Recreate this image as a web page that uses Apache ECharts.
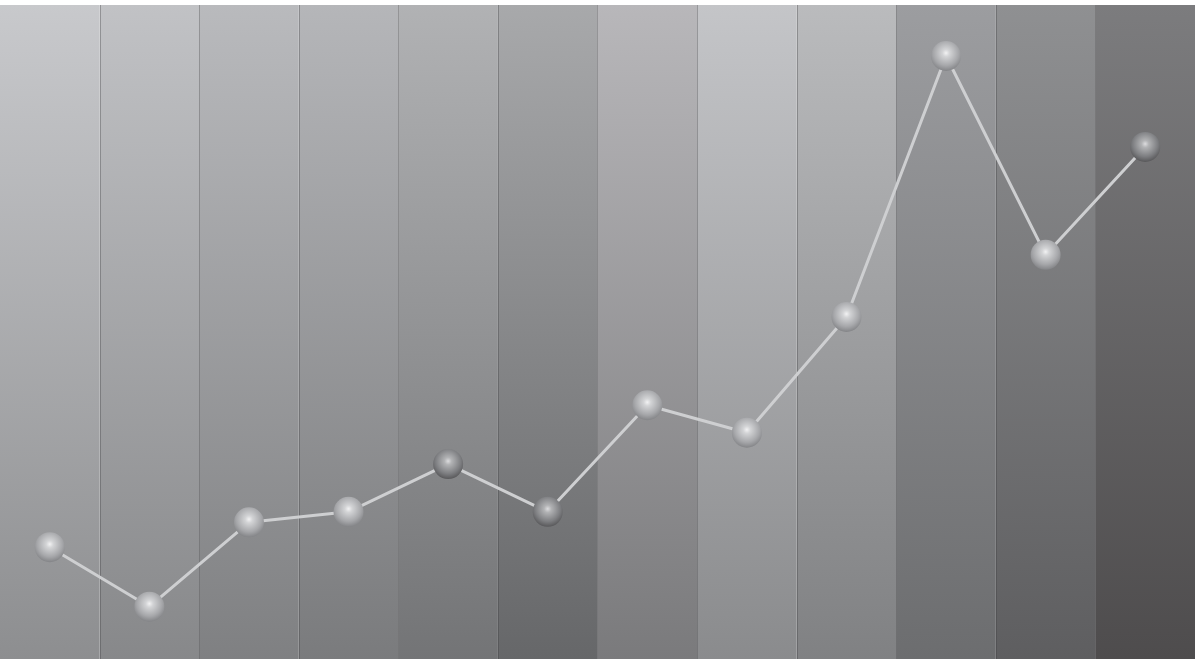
<!DOCTYPE html>
<html>
<head>
<meta charset="utf-8">
<script src="https://cdn.jsdelivr.net/npm/echarts@6/dist/echarts.min.js"></script>
<style>
  html, body { margin: 0; padding: 0; background: #ffffff; }
  #chart { width: 1195px; height: 659px; }
</style>
</head>
<body>
<div id="chart"></div>
<script>
// Monthly categories (axis labels are hidden)
const categories = ['Jan', 'Feb', 'Mar', 'Apr', 'May', 'Jun', 'Jul', 'Aug', 'Sep', 'Oct', 'Nov', 'Dec'];

// Line values
const values = [17.1, 8.0, 20.9, 22.5, 29.8, 22.5, 38.8, 34.6, 52.3, 92.2, 61.8, 78.3];

// Value-axis range
const yMin = 0;
const yMax = 100;

// Column background gradients: [top colour, bottom colour]
const columnTop    = ['#c8c9cc', '#c1c2c5', '#b9babd', '#b5b6b9', '#b1b2b4', '#a8a9ab', '#b8b7ba', '#c4c5c8', '#babbbd', '#9c9da0', '#8f9092', '#7c7c7e'];
const columnBottom = ['#8d8e90', '#87888a', '#7f8082', '#7a7b7d', '#737476', '#666769', '#7a7a7c', '#8a8b8d', '#808183', '#6c6d6f', '#5e5e60', '#4e4c4d'];

// Marker tone per point: 'light' or 'dark'
const markerTone = ['light', 'light', 'light', 'light', 'dark', 'dark', 'light', 'light', 'light', 'light', 'light', 'dark'];

function sphere(tone) {
  const stops = tone === 'dark'
    ? [{ offset: 0, color: '#dcdcde' }, { offset: 0.2, color: '#b2b3b5' }, { offset: 0.7, color: '#7d7e81' }, { offset: 1, color: '#58585a' }]
    : [{ offset: 0, color: '#f2f2f3' }, { offset: 0.2, color: '#d3d4d6' }, { offset: 0.7, color: '#a6a7aa' }, { offset: 1, color: '#838487' }];
  return new echarts.graphic.RadialGradient(0.5, 0.4, 0.6, stops);
}

const columnData = categories.map((c, i) => ({
  value: yMax,
  itemStyle: {
    color: new echarts.graphic.LinearGradient(0, 0, 0, 1, [
      { offset: 0, color: columnTop[i] },
      { offset: 1, color: columnBottom[i] }
    ])
  }
}));

const lineData = values.map((v, i) => ({
  value: v,
  itemStyle: { color: sphere(markerTone[i]) }
}));

const chart = echarts.init(document.getElementById('chart'), null, { renderer: 'canvas' });
chart.setOption({
  animation: false,
  grid: { left: 0, right: 0, top: 5, bottom: 0 },
  xAxis: {
    type: 'category',
    data: categories,
    boundaryGap: true,
    axisLine: { show: false },
    axisTick: { show: false },
    axisLabel: { show: false },
    splitLine: { show: false }
  },
  yAxis: {
    type: 'value',
    min: yMin,
    max: yMax,
    show: false,
    splitLine: { show: false }
  },
  series: [
    {
      type: 'bar',
      data: columnData,
      barWidth: '100%',
      barGap: '-100%',
      silent: true,
      z: 1
    },
    {
      type: 'line',
      data: lineData,
      symbol: 'circle',
      symbolSize: 30,
      lineStyle: { color: '#cecfd1', width: 3 },
      z: 3
    }
  ]
});

// Thin darker separators between columns
function drawSeparators() {
  const els = [];
  for (let i = 1; i < categories.length; i++) {
    const a = chart.convertToPixel({ xAxisIndex: 0 }, categories[i - 1]);
    const b = chart.convertToPixel({ xAxisIndex: 0 }, categories[i]);
    const x = Math.round((a + b) / 2) + 0.5;
    const top = chart.convertToPixel({ yAxisIndex: 0 }, yMax);
    const bottom = chart.convertToPixel({ yAxisIndex: 0 }, yMin);
    els.push({
      type: 'line',
      shape: { x1: x, y1: top, x2: x, y2: bottom },
      style: { stroke: 'rgba(60,60,62,0.35)', lineWidth: 1 },
      z: 2,
      silent: true
    });
  }
  chart.setOption({ graphic: els });
}
drawSeparators();
</script>
</body>
</html>
